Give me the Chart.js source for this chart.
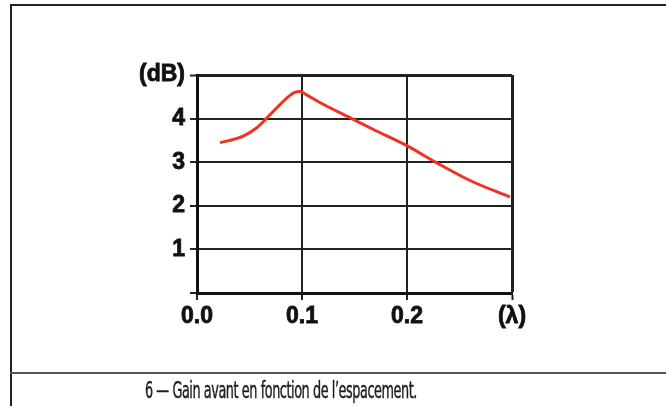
<!DOCTYPE html>
<html>
<head>
<meta charset="utf-8">
<script src="https://cdn.jsdelivr.net/npm/chart.js@4/dist/chart.umd.min.js"></script>
<style>
  html, body { margin: 0; padding: 0; background: #fff; }
  #wrap { position: relative; width: 666px; height: 406px; overflow: hidden; background: #fff; }
  #chart { position: absolute; left: 0; top: 0; }
  .rule { position: absolute; background: #222; }
  #caption {
    position: absolute; left: 145px; top: 379px; white-space: nowrap; line-height: 1;
    font-family: "Liberation Sans Narrow", "DejaVu Sans Condensed", "Liberation Sans", sans-serif;
    font-size: 23px; letter-spacing: -0.7px; color: #1e1e1e; transform-origin: 0 0;
    -webkit-text-stroke: 0.45px #1e1e1e;
  }
</style>
</head>
<body>
<div id="wrap">
  <canvas id="chart" width="666" height="406"></canvas>
  <div class="rule" style="left:10px; top:4px; width:656px; height:2px;"></div>
  <div class="rule" style="left:10px; top:4px; width:2px; height:402px;"></div>
  <div class="rule" style="left:10px; top:372px; width:656px; height:2px; background:#555;"></div>
  <div id="caption">6 — Gain avant en fonction de l’espacement.</div>
</div>
<script>
// Element spacing (in wavelengths) and forward gain (dB)
const spacing = [0.022, 0.031, 0.044, 0.057, 0.066, 0.079, 0.088, 0.093, 0.098, 0.104, 0.117, 0.149, 0.168, 0.199, 0.228, 0.260, 0.298];
const gain    = [3.45, 3.50, 3.60, 3.79, 4.00, 4.32, 4.52, 4.60, 4.62, 4.55, 4.37, 3.98, 3.75, 3.39, 2.99, 2.58, 2.20];

// Axis tick labels
const xTickLabels = ['0.0', '0.1', '0.2', '(λ)'];
const yTickLabels = ['', '1', '2', '3', '4', '(dB)'];

const points = spacing.map((s, i) => ({ x: s, y: gain[i] }));
const tickFont = { family: '"Liberation Sans", Arial, sans-serif', size: 23, weight: 'bold' };

new Chart(document.getElementById('chart'), {
  type: 'line',
  data: {
    datasets: [{
      data: points,
      borderColor: '#ee3322',
      borderWidth: 3,
      pointRadius: 0,
      fill: false,
      cubicInterpolationMode: 'monotone'
    }]
  },
  options: {
    responsive: false,
    animation: false,
    layout: { padding: { left: 0, top: 75, right: 154, bottom: 0 } },
    plugins: { legend: { display: false }, tooltip: { enabled: false } },
    scales: {
      x: {
        type: 'linear', min: 0, max: 0.3,
        afterFit: (s) => { s.height = 113; },
        ticks: {
          stepSize: 0.1, color: '#111', font: tickFont, padding: 3, maxRotation: 0,
          textStrokeColor: '#111', textStrokeWidth: 0.8,
          callback: (v, i) => xTickLabels[i]
        },
        grid: {
          color: '#222', tickColor: '#222', tickLength: 7, tickWidth: 2,
          lineWidth: (ctx) => (ctx.index === 3 ? 3 : 2)
        },
        border: { display: true, color: '#111', width: 3 }
      },
      y: {
        type: 'linear', min: 0, max: 5,
        afterFit: (s) => { s.width = 197; },
        ticks: {
          stepSize: 1, color: '#111', font: tickFont, padding: 5,
          textStrokeColor: '#111', textStrokeWidth: 0.8,
          callback: (v, i) => yTickLabels[i]
        },
        grid: {
          color: '#222', tickColor: '#222', tickLength: 7, tickWidth: 2,
          lineWidth: (ctx) => (ctx.index === 5 ? 3 : 2)
        },
        border: { display: true, color: '#111', width: 3 }
      }
    }
  }
});

// Fit the condensed caption to its printed width
const cap = document.getElementById('caption');
const w = cap.getBoundingClientRect().width;
cap.style.transform = 'scaleX(' + (272 / w) + ')';
</script>
</body>
</html>
